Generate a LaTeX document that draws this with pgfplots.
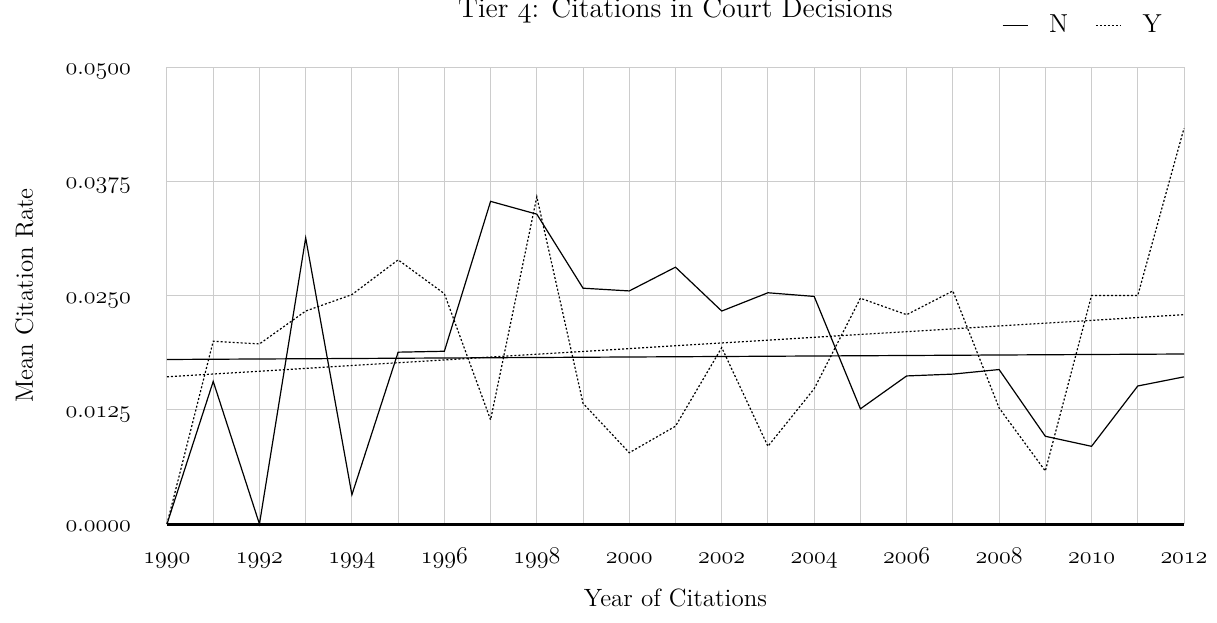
\documentclass[border=0pt]{standalone}
\usepackage{pgfplots}
\pgfplotsset{compat=1.18}

% old-style digits from the math italic font
\newcommand{\osn}[1]{$\mathnormal{#1}$}

\begin{document}
\begin{tikzpicture}
\begin{axis}[
    name=ax,
    scale only axis,
    width=508.5pt, height=228.5pt,
    xmin=1990, xmax=2012,
    ymin=0, ymax=0.05,
    xtick={1990,1992,...,2012},
    minor xtick={1991,1993,...,2011},
    ytick={0,0.0125,0.025,0.0375,0.05},
    scaled y ticks=false,
    major tick length=0pt, minor tick length=0pt,
    grid=both,
    major grid style={gray!40, line width=0.5pt},
    minor grid style={gray!40, line width=0.5pt},
    axis x line*=bottom, axis y line*=left,
    x axis line style={-, black, line width=1.5pt},
    y axis line style={draw=none},
    font=\fontsize{12.5}{15}\selectfont,
    xticklabel={$\mathnormal{\pgfmathprintnumber[fixed,precision=0,1000 sep={}]{\tick}}$},
    yticklabel={$\mathnormal{\pgfmathprintnumber[fixed,fixed zerofill,precision=4]{\tick}}$},
    xticklabel style={anchor=base, yshift=-19.5pt},
    yticklabel style={anchor=base east, yshift=-3.8pt, xshift=-14.5pt},
    title={Tier \osn{4}: Citations in Court Decisions},
    every axis title/.style={at={(axis description cs:0.5,1.1094)}, anchor=base, font=\fontsize{14}{16}\selectfont},
    xlabel={Year of Citations},
    xlabel style={at={(axis description cs:0.5,-0.1807)}, anchor=base},
    ylabel={Mean Citation Rate},
    ylabel style={at={(axis description cs:-0.1318,0.5)}, anchor=base},
    legend columns=-1,
    legend style={draw=none, fill=none, at={(axis description cs:0.9882,1.0503)}, anchor=south east,
        font=\fontsize{13}{15}\selectfont,
        /tikz/every odd column/.append style={column sep=8.5pt},
        /tikz/every even column/.append style={column sep=11.5pt}},
    legend image code/.code={\draw[#1] (0pt,0pt) -- (12.5pt,0pt);},
    clip=false,
]
% N
\addplot[black, line width=0.6pt] coordinates {
    (1990,0) (1991,0.0156) (1992,0) (1993,0.0313) (1994,0.0032) (1995,0.0188)
    (1996,0.0189) (1997,0.0353) (1998,0.0339) (1999,0.0258) (2000,0.0255)
    (2001,0.0281) (2002,0.0233) (2003,0.0253) (2004,0.0249) (2005,0.0126)
    (2006,0.0162) (2007,0.0164) (2008,0.0169) (2009,0.0096) (2010,0.0085)
    (2011,0.0151) (2012,0.0161)
};
\addlegendentry{N}
% Y
\addplot[black, line width=0.6pt, dash pattern=on 1pt off 1pt] coordinates {
    (1990,0) (1991,0.0200) (1992,0.0197) (1993,0.0233) (1994,0.0251) (1995,0.0289)
    (1996,0.0252) (1997,0.0114) (1998,0.0358) (1999,0.0132) (2000,0.0078)
    (2001,0.0107) (2002,0.0193) (2003,0.0085) (2004,0.0148) (2005,0.0247)
    (2006,0.0229) (2007,0.0255) (2008,0.0127) (2009,0.0058) (2010,0.0250)
    (2011,0.0250) (2012,0.0433)
};
\addlegendentry{Y}
% linear trend lines
\addplot[black, line width=0.6pt, forget plot] coordinates {(1990,0.0180) (2012,0.0186)};
\addplot[black, line width=0.6pt, dash pattern=on 1pt off 1pt, forget plot] coordinates {(1990,0.0161) (2012,0.0229)};
\end{axis}
\pgfresetboundingbox
\path (ax.south west) ++(-83.5pt,-49pt) rectangle ++(608.5pt,311pt);
\end{tikzpicture}
\end{document}
